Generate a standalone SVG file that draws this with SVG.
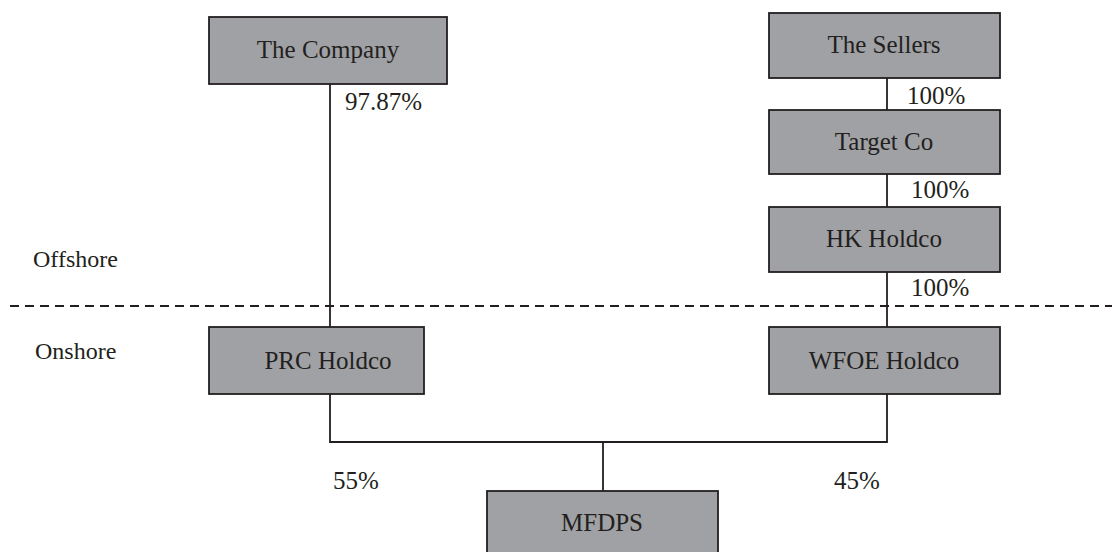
<svg xmlns="http://www.w3.org/2000/svg" width="1112" height="552" viewBox="0 0 1112 552">
<style>
.box{fill:#a0a1a4;stroke:#231f20;stroke-width:1.8}
.t{font-family:"Liberation Serif","Times New Roman",serif;font-size:25px;fill:#231f20;text-anchor:middle}
.l{font-family:"Liberation Serif","Times New Roman",serif;font-size:25px;fill:#231f20}
.s{font-family:"Liberation Serif","Times New Roman",serif;font-size:24px;fill:#231f20}
.c{fill:none;stroke:#231f20;stroke-width:1.8}
</style>
<rect width="1112" height="552" fill="#fff"/>
<g id="connectors">
<line class="c" x1="330" y1="84" x2="330" y2="327"/>
<line class="c" x1="887" y1="78" x2="887" y2="110"/>
<line class="c" x1="887" y1="174" x2="887" y2="207"/>
<line class="c" x1="887" y1="272" x2="887" y2="327"/>
<polyline class="c" points="330,394 330,442 887,442 887,394"/>
<line class="c" x1="603" y1="442" x2="603" y2="491"/>
<line x1="10" y1="306" x2="1112" y2="306" stroke="#231f20" stroke-width="1.8" stroke-dasharray="9,6"/>
</g>
<g id="labels">
<text class="l" x="345" y="110">97.87%</text>
<text class="l" x="907" y="104">100%</text>
<text class="l" x="911" y="198">100%</text>
<text class="l" x="911" y="296">100%</text>
<text class="l" x="333" y="489">55%</text>
<text class="l" x="834" y="489">45%</text>
<text class="s" x="33" y="267">Offshore</text>
<text class="s" x="35" y="359">Onshore</text>
</g>
<g id="the-company"><rect class="box" x="209" y="17" width="238" height="67"/><text class="t" x="328" y="58">The Company</text></g>
<g id="the-sellers"><rect class="box" x="769" y="13" width="231" height="65"/><text class="t" x="884" y="53">The Sellers</text></g>
<g id="target-co"><rect class="box" x="769" y="110" width="231" height="64"/><text class="t" x="884" y="150">Target Co</text></g>
<g id="hk-holdco"><rect class="box" x="769" y="207" width="231" height="65"/><text class="t" x="884" y="247">HK Holdco</text></g>
<g id="prc-holdco"><rect class="box" x="209" y="327" width="215" height="67"/><text class="t" x="328" y="369">PRC Holdco</text></g>
<g id="wfoe-holdco"><rect class="box" x="769" y="327" width="231" height="67"/><text class="t" x="884" y="369">WFOE Holdco</text></g>
<g id="mfdps"><rect class="box" x="487" y="491" width="231" height="70"/><text class="t" x="602" y="531">MFDPS</text></g>
</svg>
